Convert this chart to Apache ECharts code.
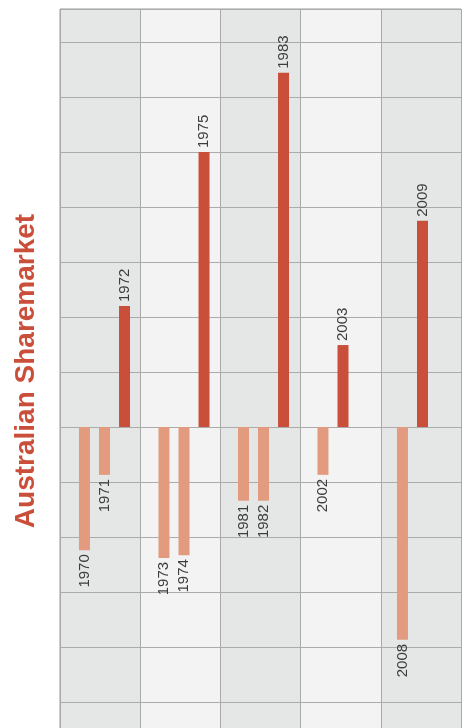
<!DOCTYPE html>
<html>
<head>
<meta charset="utf-8">
<script src="https://cdn.jsdelivr.net/npm/echarts@6/dist/echarts.min.js"></script>
<style>
html,body{margin:0;padding:0;background:#fff;}
#chart{width:469px;height:728px;}
</style>
</head>
<body>
<div id="chart"></div>
<script>
// Groups (shaded bands) and annual returns (%)
const periods = ['1970–72', '1973–75', '1981–83', '2002–03', '2008–09'];
const years = [1970, 1971, 1972, 1973, 1974, 1975, 1981, 1982, 1983, 2002, 2003, 2008, 2009];
const returns = [-22.4, -8.7, 22.0, -23.8, -23.3, 50.0, -13.4, -13.4, 64.4, -8.7, 14.9, -38.7, 37.5];
const periodOfYear = [0, 0, 0, 1, 1, 1, 2, 2, 2, 3, 3, 4, 4];
const titleText = 'Australian Sharemarket';

const posColor = '#ca4f3b';
const negColor = '#e29b7f';
const labelFont = 'Liberation Sans, Arial, Helvetica, sans-serif';

// Build one series per slot inside each band
const slots = [[], [], []];
periods.forEach((p, gi) => {
  const idx = [];
  periodOfYear.forEach((g, i) => { if (g === gi) idx.push(i); });
  for (let s = 0; s < 3; s++) {
    const i = idx[s];
    if (i === undefined) { slots[s].push(null); continue; }
    const v = returns[i];
    const neg = v < 0;
    slots[s].push({
      value: v,
      name: String(years[i]),
      itemStyle: { color: neg ? negColor : posColor },
      label: {
        show: true,
        formatter: String(years[i]),
        position: neg ? 'bottom' : 'top',
        rotate: 90,
        align: neg ? 'right' : 'left',
        verticalAlign: 'middle',
        distance: 4
      }
    });
  }
});

const yMin = -60, yMax = 76, yInt = 10;

const chart = echarts.init(document.getElementById('chart'), null, { renderer: 'canvas' });
chart.setOption({
  animation: false,
  backgroundColor: '#fff',
  grid: [
    { left: 60, width: 401, top: 9, height: 748, outerBoundsMode: 'none', show: true, borderColor: '#9a9a9a', borderWidth: 1, backgroundColor: 'transparent', containLabel: false },
    { left: 64.75, width: 397.5, top: 9, height: 748, outerBoundsMode: 'none', show: false, containLabel: false }
  ],
  xAxis: [
    {
      gridIndex: 0, type: 'category', data: periods, boundaryGap: true, z: 0,
      axisLine: { show: false }, axisTick: { show: false }, axisLabel: { show: false },
      splitLine: { show: true, lineStyle: { color: '#a9a9a9', width: 1 } },
      splitArea: { show: true, areaStyle: { color: ['#e5e6e6', '#f3f3f3'] } }
    },
    {
      gridIndex: 1, type: 'category', data: periods, boundaryGap: true,
      axisLine: { show: false }, axisTick: { show: false }, axisLabel: { show: false },
      splitLine: { show: false }, splitArea: { show: false }
    }
  ],
  yAxis: [
    {
      gridIndex: 0, type: 'value', min: yMin, max: yMax, interval: yInt, z: 1,
      axisLine: { show: false }, axisTick: { show: false }, axisLabel: { show: false },
      splitLine: { show: true, lineStyle: { color: '#ababab', width: 1 } }
    },
    {
      gridIndex: 1, type: 'value', min: yMin, max: yMax, interval: yInt,
      axisLine: { show: false }, axisTick: { show: false }, axisLabel: { show: false },
      splitLine: { show: false }
    }
  ],
  series: slots.map((d, s) => ({
    type: 'bar',
    xAxisIndex: 1,
    yAxisIndex: 1,
    z: 3,
    data: d,
    barWidth: 11,
    barGap: '82%',
    label: { fontSize: 15, color: '#3d3d3d', fontFamily: labelFont },
    emphasis: { disabled: true }
  })),
  graphic: [
    {
      type: 'text',
      x: 26,
      y: 371,
      z: 10,
      rotation: Math.PI / 2,
      style: {
        text: titleText,
        fontSize: 28,
        fontWeight: 'bold',
        fontFamily: labelFont,
        fill: posColor,
        align: 'center',
        verticalAlign: 'middle'
      }
    }
  ]
});
</script>
</body>
</html>
